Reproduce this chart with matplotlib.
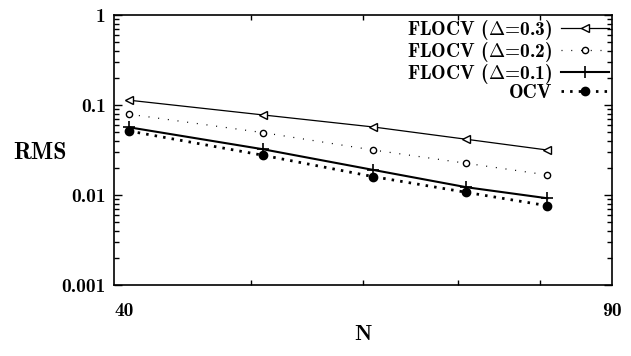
import matplotlib
matplotlib.use('Agg')
import matplotlib.pyplot as plt
from matplotlib.ticker import FixedLocator, FixedFormatter, NullFormatter, LogLocator

# RMS error against sample size N
N = [41, 51, 61, 71, 81]
rms_d03 = [0.113, 0.0775, 0.057, 0.0416, 0.0316]
rms_d02 = [0.079, 0.0493, 0.0316, 0.0225, 0.0167]
rms_d01 = [0.0565, 0.0322, 0.019, 0.0122, 0.0092]
rms_ocv = [0.0514, 0.0276, 0.016, 0.0107, 0.0076]

labels = [r'FLOCV ($\Delta$=0.3)', r'FLOCV ($\Delta$=0.2)',
          r'FLOCV ($\Delta$=0.1)', 'OCV']
y_ticks = [0.001, 0.01, 0.1, 1]
y_ticklabels = ['0.001', '0.01', '0.1', '1']
x_ticks = [40, 90]
x_ticklabels = ['40', '90']

plt.rcParams['font.family'] = 'cmb10'
plt.rcParams['mathtext.fontset'] = 'cm'
plt.rcParams['font.size'] = 14

fig = plt.figure(figsize=(6.31, 3.56), dpi=100)
ax = fig.add_axes([0.1807, 0.1994, 0.7893, 0.7585])

ax.plot(N, rms_d03, color='black', lw=0.9, marker='<', ms=6,
        mfc='white', mec='black', mew=1.0, label=labels[0])
ax.plot(N, rms_d02, color='black', lw=0.9, ls=(0, (0.8, 7)), marker='o', ms=4.5,
        mfc='white', mec='black', mew=1.0, label=labels[1])
ax.plot(N, rms_d01, color='black', lw=1.5, marker='+', ms=9, mew=1.2,
        label=labels[2])
ax.plot(N, rms_ocv, color='black', lw=2.0, ls=(0, (0.9, 2.2)), marker='o', ms=6,
        mfc='black', mec='black', label=labels[3])

ax.set_xscale('log')
ax.set_yscale('log')
ax.set_xlim(40, 90)
ax.set_ylim(0.001, 1)

ax.xaxis.set_major_locator(FixedLocator(x_ticks))
ax.xaxis.set_major_formatter(FixedFormatter(x_ticklabels))
ax.xaxis.set_minor_locator(FixedLocator([50, 60, 70, 80]))
ax.xaxis.set_minor_formatter(NullFormatter())
ax.yaxis.set_major_locator(FixedLocator(y_ticks))
ax.yaxis.set_major_formatter(FixedFormatter(y_ticklabels))
ax.yaxis.set_minor_locator(LogLocator(base=10, subs=range(2, 10)))
ax.yaxis.set_minor_formatter(NullFormatter())

ax.tick_params(which='both', direction='in', top=True, right=True, width=1.0)
ax.tick_params(which='major', length=6)
ax.tick_params(which='minor', length=3.5)
ax.tick_params(axis='x', which='major', length=0, pad=12)
ax.tick_params(axis='y', which='major', pad=6)
ax.get_xticklabels()[0].set_ha('left')
for sp in ax.spines.values():
    sp.set_linewidth(1.2)

ax.set_xlabel('N', fontsize=16, labelpad=4)
ax.set_ylabel('RMS', fontsize=17, rotation=0, labelpad=0)
ax.yaxis.set_label_coords(-0.149, 0.45)

leg = ax.legend(loc='upper right', bbox_to_anchor=(1.0, 1.0), frameon=False,
                markerfirst=False, handlelength=2.5, handletextpad=0.45,
                labelspacing=-0.1, borderpad=0.0, borderaxespad=0.15)

fig.savefig('out.png', dpi=100)
